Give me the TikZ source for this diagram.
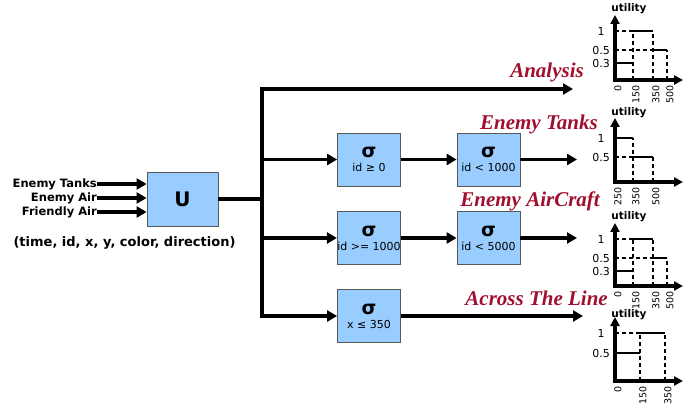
\documentclass[tikz,border=0pt]{standalone}
\usepackage{fontspec}
\setmainfont{DejaVu Sans}
\newfontfamily\streamfont{Liberation Serif}
\usetikzlibrary{arrows.meta}
\definecolor{boxblue}{HTML}{99CCFF}
\definecolor{streamred}{HTML}{A0102E}

\begin{document}
\begin{tikzpicture}[x=1pt,y=-1pt,
	>={Triangle[length=10pt,width=11pt]},
	opbox/.style={
		rectangle,
		draw=black!65,
		fill=boxblue,
		line width=0.8pt,
		minimum width=63pt,
		minimum height=53pt,
		inner sep=0pt,
		align=center,
		font=\fontsize{11}{11}\selectfont
	},
	unionbox/.style={
		opbox,
		minimum width=71pt,
		minimum height=54pt,
		font=\bfseries\fontsize{20}{24}\selectfont
	},
	flow/.style={->,line width=3.4pt},
	source/.style={anchor=east,inner sep=0pt,font=\bfseries\fontsize{11.5}{13}\selectfont},
	stream/.style={anchor=base east,inner sep=0pt,text=streamred,
		font=\streamfont\bfseries\itshape\fontsize{21}{23}\selectfont},
	axisline/.style={{Triangle[length=9pt,width=9pt]}-{Triangle[length=9pt,width=9pt]},line width=3.2pt},
	level/.style={line width=2pt},
	guide/.style={line width=1.2pt,dash pattern=on 4pt off 3pt},
	ylab/.style={inner sep=0pt,font=\fontsize{11}{12}\selectfont},
	xlab/.style={rotate=90,anchor=east,inner sep=0pt,font=\fontsize{9.5}{11}\selectfont},
	utilab/.style={inner sep=0pt,font=\bfseries\fontsize{10.5}{12}\selectfont}
]
\useasboundingbox (0,0) rectangle (688,406);

% Eingangsstroeme und Vereinigung
\node[unionbox] (U) at (182.5,199) {U};
\node[source] (tanks) at (97,184) {Enemy Tanks};
\node[source] (air) at (97,198) {Enemy Air};
\node[source] (friendly) at (97,212) {Friendly Air};
\node[inner sep=0pt,font=\bfseries\fontsize{13}{15}\selectfont] (schema) at (124.5,243) {(time, id, x, y, color, direction)};

\draw[flow] (tanks.east) -- (tanks.east -| U.west);
\draw[flow] (air.east) -- (air.east -| U.west);
\draw[flow] (friendly.east) -- (friendly.east -| U.west);

% Selektionen
\node[opbox] (sel1) at (369,159.5) {{\bfseries\fontsize{19}{19}\selectfont σ}\\[3pt]id ≥ 0};
\node[opbox] (sel2) at (488.5,159.5) {{\bfseries\fontsize{19}{19}\selectfont σ}\\[3pt]id < 1000};
\node[opbox] (sel3) at (369,238) {{\bfseries\fontsize{19}{19}\selectfont σ}\\[3pt]id >= 1000};
\node[opbox] (sel4) at (488.5,238) {{\bfseries\fontsize{19}{19}\selectfont σ}\\[3pt]id < 5000};
\node[opbox] (sel5) at (369,316) {{\bfseries\fontsize{19}{19}\selectfont σ}\\[3pt]x ≤ 350};

% Verteiler
\coordinate (bustop) at (262,89);
\coordinate (busbot) at (262,316);
\coordinate (analysisend) at (573,89);
\coordinate (tanksend) at (577,159.5);
\coordinate (aircraftend) at (577,238);
\coordinate (lineend) at (583,316);

\draw[line width=3.4pt] (U.east) -- (U.east -| bustop);
\draw[flow,<->] (analysisend) -- (bustop) -- (busbot) -- (sel5.west);
\draw[flow] (sel1.west -| bustop) -- (sel1.west);
\draw[flow] (sel3.west -| bustop) -- (sel3.west);
\draw[flow] (sel1) -- (sel2);
\draw[flow] (sel3) -- (sel4);
\draw[flow] (sel2) -- (tanksend);
\draw[flow] (sel4) -- (aircraftend);
\draw[flow] (sel5) -- (lineend);

% Ausgaben
\node[stream] (analysis) at (584,78) {Analysis};
\node[stream] (enemytanks) at (598,130) {Enemy Tanks};
\node[stream] (aircraft) at (600,207) {Enemy AirCraft};
\node[stream] (acrossline) at (608,305) {Across The Line};

% Nutzenfunktion Analysis
\begin{scope}[shift={(615,80)}]
	\draw[axisline] (0,-65) -- (0,0) -- (68,0);
	\draw[guide] (0,-49) -- (18,-49) (0,-30) -- (38,-30);
	\draw[guide] (18,0) -- (18,-49) (38,0) -- (38,-49) (52,0) -- (52,-30);
	\draw[level] (0,-17) -- (18,-17) (18,-49) -- (38,-49) (38,-30) -- (52,-30);
	\node[utilab] (u1) at (14,-71) {utility};
	\node[ylab] (u1y1) at (-14,-49) {1};
	\node[ylab] (u1y2) at (-14,-30) {0.5};
	\node[ylab] (u1y3) at (-14,-17) {0.3};
	\foreach \x/\v in {0/0,18/150,38/350,52/500}
		\node[xlab] (u1x\v) at (\x+3,5) {\v};
\end{scope}

% Nutzenfunktion Enemy Tanks
\begin{scope}[shift={(615,182)}]
	\draw[axisline] (0,-64) -- (0,0) -- (68,0);
	\draw[guide] (0,-25) -- (18,-25);
	\draw[guide] (18,0) -- (18,-44) (38,0) -- (38,-25);
	\draw[level] (0,-44) -- (18,-44) (18,-25) -- (38,-25);
	\node[utilab] (u2) at (14,-69) {utility};
	\node[ylab] (u2y1) at (-14,-44) {1};
	\node[ylab] (u2y2) at (-14,-25) {0.5};
	\foreach \x/\v in {0/250,18/350,38/500}
		\node[xlab] (u2x\v) at (\x+3,5) {\v};
\end{scope}

% Nutzenfunktion Enemy AirCraft
\begin{scope}[shift={(615,286)}]
	\draw[axisline] (0,-63) -- (0,0) -- (68,0);
	\draw[guide] (0,-47) -- (18,-47) (0,-28) -- (38,-28);
	\draw[guide] (18,0) -- (18,-47) (38,0) -- (38,-47) (52,0) -- (52,-28);
	\draw[level] (0,-15) -- (18,-15) (18,-47) -- (38,-47) (38,-28) -- (52,-28);
	\node[utilab] (u3) at (14,-69) {utility};
	\node[ylab] (u3y1) at (-14,-47) {1};
	\node[ylab] (u3y2) at (-14,-28) {0.5};
	\node[ylab] (u3y3) at (-14,-15) {0.3};
	\foreach \x/\v in {0/0,18/150,38/350,52/500}
		\node[xlab] (u3x\v) at (\x+3,5) {\v};
\end{scope}

% Nutzenfunktion Across The Line
\begin{scope}[shift={(615,381)}]
	\draw[axisline] (0,-64) -- (0,0) -- (68,0);
	\draw[guide] (0,-48) -- (25,-48);
	\draw[guide] (25,0) -- (25,-48) (50,0) -- (50,-48);
	\draw[level] (0,-28) -- (25,-28) (25,-48) -- (50,-48);
	\node[utilab] (u4) at (14,-66) {utility};
	\node[ylab] (u4y1) at (-14,-48) {1};
	\node[ylab] (u4y2) at (-14,-28) {0.5};
	\foreach \x/\v in {0/0,25/150,50/350}
		\node[xlab] (u4x\v) at (\x+3,5) {\v};
\end{scope}

\end{tikzpicture}
\end{document}
